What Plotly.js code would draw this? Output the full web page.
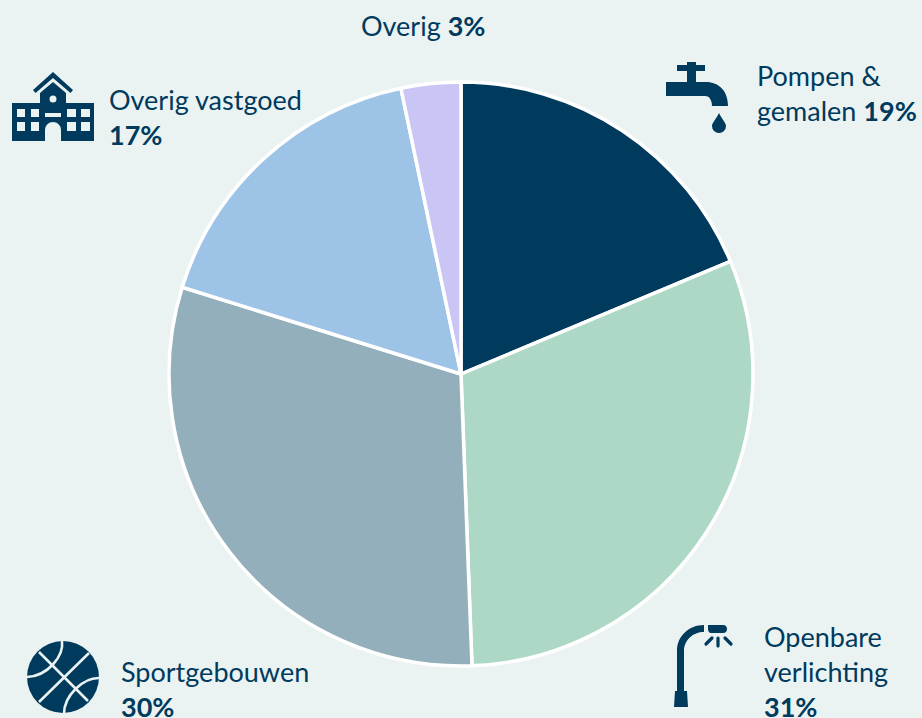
<!DOCTYPE html>
<html><head><meta charset="utf-8">
<script src="https://cdn.plot.ly/plotly-3.0.1.min.js"></script>
<style>html,body{margin:0;padding:0;background:#EAF3F2;overflow:hidden}#c{width:922px;height:718px}</style>
</head><body><div id="c"></div>
<script>
const categories = ["Pompen & gemalen","Openbare verlichting","Sportgebouwen","Overig vastgoed","Overig"];
const shareValues = [18.7,30.7,30.4,16.9,3.3];
const sliceColors = ["#003A5D","#AED8C6","#94AFBC","#9DC3E6","#C9C6F5"];
const labelTexts = ["Overig <b>3%</b>","Pompen &<br>gemalen <b>19%</b>","Overig vastgoed<br><b>17%</b>","Sportgebouwen<br><b>30%</b>","Openbare<br>verlichting<br><b>31%</b>"];
const labelX = [360,756,108,120,763];
const labelY = [8,58,82,654,619];
const W=922,H=718,ink="#003A5D",bg="#EAF3F2";
const icons = `<svg xmlns="http://www.w3.org/2000/svg" width="${W}" height="${H}" viewBox="0 0 ${W} ${H}">
<g fill="${ink}">
<path d="M677 65h10v-3h9v3h9v6h-9v11h10c13 0 22 9 22 24h-16c0-5-2-10-7-10h-39V82h21V71h-10z"/>
<path d="M719 113c3 6 7 10 7 13a7 7 0 0 1-14 0c0-3 4-7 7-13z"/>
<path d="M53 72l20 18-2.500 3-17.500-15-17.500 15-2.500-3z"/>
<path fill-rule="evenodd" d="M53 82l13 11v10h28v38H61v-11a8 8 0 0 0-16 0v11H12v-38h28V93zM53 95.500a3.500 3.500 0 1 0 0 7 3.500 3.500 0 0 0 0-7zM17 109v8h8v-8zM31 109v8h8v-8zM67 109v8h9v-8zM81 109v8h9v-8zM17 122v9h8v-9zM31 122v9h8v-9zM67 122v9h9v-9zM81 122v9h9v-9zM45 113v4h16v-4z"/>
<circle cx="63" cy="677" r="36"/>
<path d="M674 707l1-16h2v-40c0-15 12-26 27-26v7c-11 0-20 8-20 19v40h3l1 16z"/>
<path d="M708 625h15c3 0 4 2 4 4s-1 4-4 4h-12c-2 0-3-2-3-4z"/>
</g>
<g fill="none" stroke="${bg}" stroke-width="2.600">
<path d="M39 652L88 701M89 653L39 702"/>
<path d="M62 641C64 656 48 676 27 677"/>
<path d="M100 678C84 677 64 695 64 714"/>
</g>
<g fill="none" stroke="${ink}" stroke-width="3.200" stroke-linecap="round">
<path d="M718 638v8M706 644l6-6M731 644l-6-6"/>
</g></svg>`;
const annotations = labelTexts.map((t,i)=>({text:t,xref:"paper",yref:"paper",x:labelX[i]/W,y:1-labelY[i]/H,
  xanchor:"left",yanchor:"top",align:"left",showarrow:false,borderpad:0,font:{family:"Lato, Carlito, sans-serif",size:27,color:ink}}));
Plotly.newPlot("c",[{type:"pie",labels:categories,values:shareValues,sort:false,direction:"clockwise",rotation:0,
  textinfo:"none",hoverinfo:"label+percent",showlegend:false,
  marker:{colors:sliceColors,line:{color:"#FFFFFF",width:3.5}},
  domain:{x:[169/W,753/W],y:[1-666/H,1-82/H]}}],
 {width:W,height:H,margin:{l:0,r:0,t:0,b:0},paper_bgcolor:bg,plot_bgcolor:bg,showlegend:false,annotations,
  images:[{source:"data:image/svg+xml;charset=utf-8,"+encodeURIComponent(icons),xref:"paper",yref:"paper",x:0,y:1,sizex:1,sizey:1,xanchor:"left",yanchor:"top",sizing:"stretch",layer:"above"}]},
 {displayModeBar:false});
</script></body></html>
